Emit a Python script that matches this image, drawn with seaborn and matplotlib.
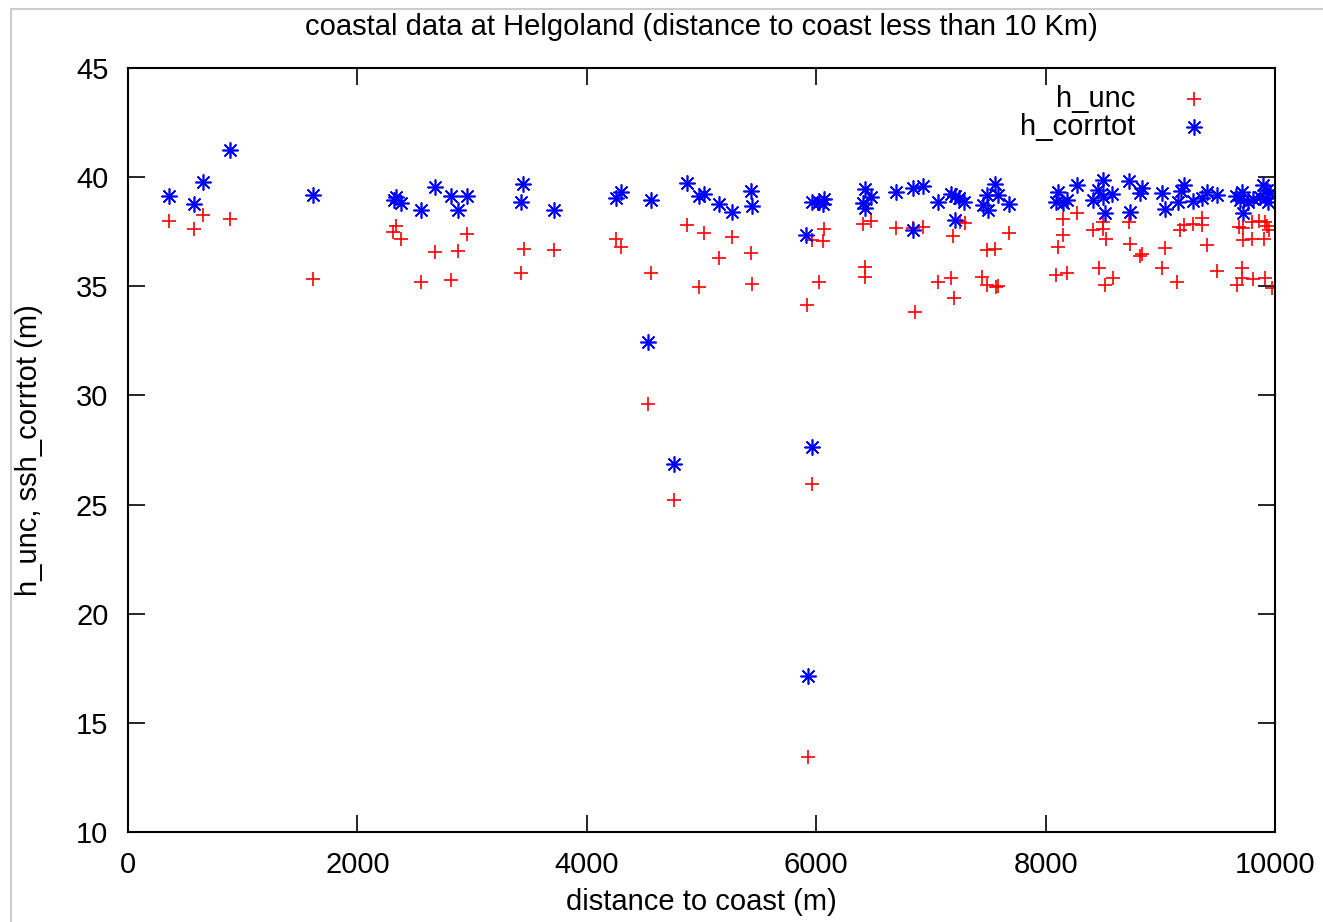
import pandas as pd
import matplotlib
matplotlib.use("Agg")
import matplotlib.pyplot as plt
import seaborn as sns
from matplotlib.lines import Line2D

# h_unc points (distance to coast in m, height in m)
dist_unc = [357, 575, 654, 889, 1613, 2336, 2310, 2380, 2554, 2676, 2816, 2877, 2955,
            3452, 3426, 3714, 4254, 4298, 4560, 4533, 4760, 4873, 4978, 5022, 5152, 5266,
            5431, 5440, 5920, 5928, 5963, 5963, 6024, 6059, 6068, 6408, 6477, 6425, 6425,
            6695, 6844, 6931, 6861, 7062, 7175, 7201, 7192, 7254, 7297, 7681, 7489, 7558,
            7445, 7489, 7567, 7585, 8151, 8151, 8108, 8090, 8186, 8273, 8413, 8500, 8500,
            8526, 8465, 8587, 8517, 8727, 8735, 8840, 8823, 9041, 9014, 9145, 9171, 9206,
            9285, 9363, 9363, 9407, 9494, 9686, 9721, 9721, 9712, 9712, 9668, 9799, 9808,
            9799, 9860, 9912, 9904, 9912, 9930, 9947, 9973]
h_unc = [37.99, 37.62, 38.27, 38.08, 35.33, 37.76, 37.49, 37.17, 35.20, 36.57, 35.29, 36.62, 37.40,
         36.71, 35.61, 36.66, 37.17, 36.80, 35.61, 29.61, 25.21, 37.81, 34.97, 37.44, 36.30, 37.26,
         36.53, 35.10, 34.14, 13.44, 25.94, 37.12, 35.20, 37.07, 37.62, 37.85, 37.99, 35.88, 35.43,
         37.67, 37.67, 37.72, 33.82, 35.20, 35.38, 34.46, 37.30, 37.95, 37.90, 37.44, 36.66, 36.71,
         35.43, 35.06, 34.97, 35.01, 38.08, 37.35, 36.80, 35.52, 35.61, 38.36, 37.58, 37.95, 37.62,
         37.17, 35.84, 35.38, 35.06, 37.95, 36.94, 36.48, 36.39, 36.75, 35.84, 35.20, 37.58, 37.81,
         37.85, 38.13, 37.81, 36.89, 35.70, 37.72, 37.67, 37.12, 35.84, 35.38, 35.06, 37.95, 35.33,
         37.17, 37.99, 37.95, 37.17, 35.38, 37.76, 37.58, 34.92]

# h_corrtot points
dist_corr = [357, 575, 654, 889, 1613, 2319, 2336, 2380, 2554, 2676, 2816, 2877, 2955,
             3444, 3426, 3714, 4254, 4298, 4560, 4533, 4760, 4873, 4978, 5022, 5152, 5266,
             5431, 5440, 5911, 5928, 5963, 5963, 6024, 6068, 6059, 6425, 6477, 6408, 6425,
             6695, 6844, 6931, 6844, 7062, 7175, 7210, 7245, 7288, 7210, 7558, 7489, 7585,
             7454, 7497, 7681, 8108, 8090, 8151, 8273, 8186, 8500, 8456, 8413, 8500, 8578,
             8517, 8727, 8840, 8823, 8735, 9014, 9041, 9154, 9180, 9206, 9285, 9363, 9407,
             9494, 9660, 9712, 9721, 9695, 9764, 9808, 9895, 9930, 9912, 9939, 9868, 9956]
h_corrtot = [39.14, 38.77, 39.78, 41.24, 39.18, 38.95, 39.09, 38.82, 38.50, 39.55, 39.14, 38.50, 39.14,
             39.69, 38.86, 38.50, 39.04, 39.32, 38.95, 32.45, 26.86, 39.73, 39.14, 39.23, 38.77, 38.40,
             39.37, 38.68, 37.35, 17.15, 27.64, 38.86, 38.86, 39.00, 38.77, 39.46, 39.09, 38.82, 38.59,
             39.32, 39.50, 39.59, 37.58, 38.86, 39.23, 39.14, 39.04, 38.86, 38.04, 39.69, 39.18, 39.18,
             38.72, 38.50, 38.77, 39.32, 38.86, 38.82, 39.64, 38.95, 39.87, 39.41, 38.95, 39.09, 39.23,
             38.36, 39.82, 39.50, 39.27, 38.40, 39.27, 38.54, 38.86, 39.37, 39.64, 38.91, 39.04, 39.32,
             39.18, 39.14, 39.32, 38.36, 38.95, 38.86, 39.00, 39.64, 39.41, 39.04, 38.86, 39.09, 39.27]

unc = pd.DataFrame({'distance': dist_unc, 'h': h_unc})
corr = pd.DataFrame({'distance': dist_corr, 'h': h_corrtot})

sns.set_style("white")
plt.rcParams['font.family'] = ['Liberation Sans Narrow', 'Liberation Sans', 'DejaVu Sans']
plt.rcParams['text.color'] = 'black'
plt.rcParams['axes.labelcolor'] = 'black'

fs = 21
fig = plt.figure(figsize=(13.23, 9.22), dpi=100)
ax = fig.add_axes([0.0967, 0.0976, 0.8670, 0.8286])

sns.scatterplot(data=unc, x='distance', y='h', ax=ax, marker='+', color='#ff0000',
                s=110, linewidth=1.2, label='h_unc')
sns.scatterplot(data=corr, x='distance', y='h', ax=ax, marker=(8, 2, 0), color='#0000ff',
                s=120, linewidth=1.2, label='h_corrtot')

ax.set_xlim(0, 10000)
ax.set_ylim(10, 45)
ax.set_xticks([0, 2000, 4000, 6000, 8000, 10000])
ax.set_yticks([10, 15, 20, 25, 30, 35, 40, 45])
ax.tick_params(direction='in', length=12, width=1.2, top=True, right=True,
               bottom=True, left=True, labelsize=fs, pad=14, colors='black')
for sp in ax.spines.values():
    sp.set_color('black')
    sp.set_linewidth(1.5)

ax.set_title('coastal data at Helgoland (distance to coast less than 10 Km)', fontsize=fs, pad=24)
ax.set_xlabel('distance to coast (m)', fontsize=fs, labelpad=6)
ax.set_ylabel('h_unc, ssh_corrtot (m)', fontsize=fs, labelpad=24)

ax.legend(loc='upper right', bbox_to_anchor=(0.965, 0.993), markerfirst=False, frameon=False,
          fontsize=fs, handletextpad=1.0, labelspacing=0.0, borderaxespad=0.0)

# faint screenshot border
fig.add_artist(Line2D([0.008, 0.008], [0, 0.99], color='#cccccc', lw=1.5, zorder=0))
fig.add_artist(Line2D([0.008, 1.0], [0.99, 0.99], color='#cccccc', lw=1.5, zorder=0))

fig.savefig('out.png', dpi=100)
